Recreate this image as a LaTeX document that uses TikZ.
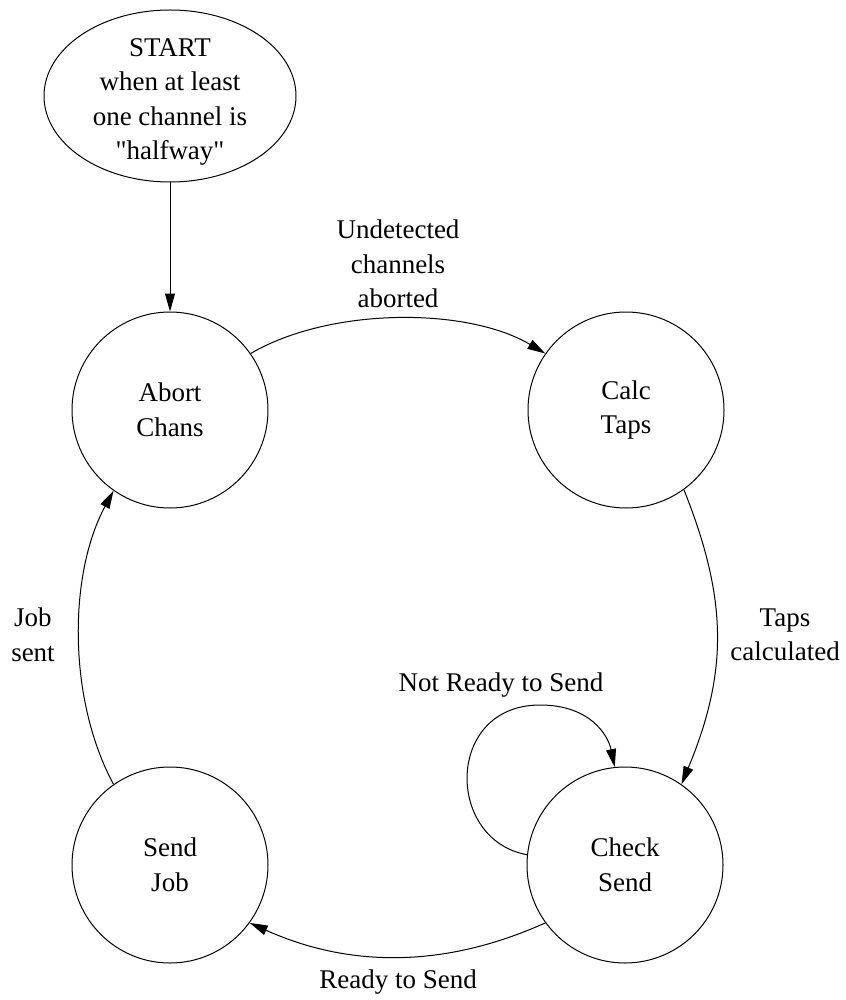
\documentclass[tikz,border=0pt]{standalone}
\usepackage{fontspec}
\newfontfamily\tfont{Liberation Serif}
\usetikzlibrary{arrows.meta,shapes.geometric}
\begin{document}
\begin{tikzpicture}[x=1pt,y=-1pt,
  every node/.style={font=\tfont\fontsize{27}{34.5}\selectfont, align=center},
  state/.style={draw, circle, minimum size=196pt, inner sep=0pt, line width=1pt},
  startnode/.style={draw, ellipse, minimum width=252pt, minimum height=172pt, inner sep=0pt, line width=1pt},
  lbl/.style={inner sep=0pt},
  arr/.style={line width=1pt, -{Triangle[length=18pt,width=10pt]}}]
\useasboundingbox (0,0) rectangle (845,1000);
\node[startnode] (start) at (170,96) {};
\node[lbl] (starttxt) at (170,102) {START\\when at least\\one channel is\\"halfway"};
\node[state] (abort) at (170,410) {Abort\\Chans};
\node[state] (calc) at (626,410) {Calc\\Taps};
\node[state] (check) at (625,865) {Check\\Send};
\node[state] (send) at (170,865) {Send\\Job};
\draw[arr] (start) -- (abort);
\draw[arr] (abort.35) .. controls (330,307) and (467,307) .. (calc.145);
\draw[arr] (calc.-54) .. controls (728,600) and (728,672) .. (check.55);
\draw[arr] (check.-144) .. controls (445,968) and (350,968) .. (send.-36);
\draw[arr] (send.125) .. controls (68,700) and (68,575) .. (abort.-125);
\draw[arr] (check.174) .. controls (445,840) and (445,705) .. (540,705) .. controls (590,705) and (608,735) .. (check.96);
\node[lbl] (l1) at (398,264) {Undetected\\channels\\aborted};
\node[lbl] (l2) at (785,635) {Taps\\calculated};
\node[lbl] (l3) at (398,982) {Ready to Send};
\node[lbl] (l4) at (33,635) {Job\\sent};
\node[lbl] (l5) at (501,685) {Not Ready to Send};
\end{tikzpicture}
\end{document}
